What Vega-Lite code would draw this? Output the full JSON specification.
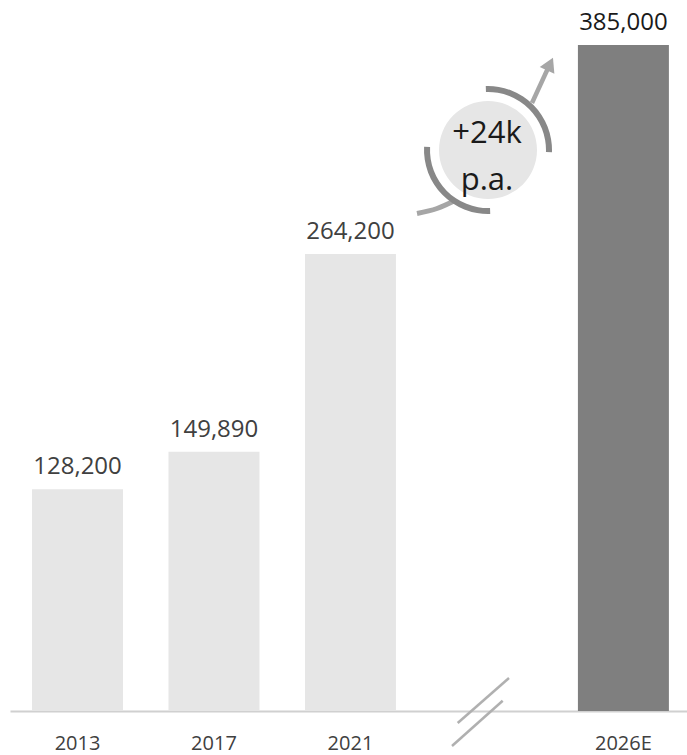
{
  "$schema": "https://vega.github.io/schema/vega-lite/v6.json",
  "autosize": {"type": "none"},
  "padding": {"left": 10, "top": 45, "right": 0, "bottom": 44},
  "width": 677,
  "height": 666,
  "background": "white",
  "config": {"view": {"stroke": null}, "font": "Open Sans"},
  "datasets": {
    "bars": [
      {"year": "2013", "value": 128200, "type": "actual"},
      {"year": "2017", "value": 149890, "type": "actual"},
      {"year": "2021", "value": 264200, "type": "actual"},
      {"year": "2026E", "value": 385000, "type": "estimate"}
    ],
    "breaks": [
      {"i": 2.7856, "v": -6937, "i2": 3.1615, "v2": 19077},
      {"i": 2.7438, "v": -20233, "i2": 3.1153, "v2": 5954}
    ],
    "circle": [{"i": 3.0076, "v": 324303, "a0": 0, "a1": 360}],
    "rings": [
      {"i": 3.0076, "v": 324303, "a0": -2, "a1": 92},
      {"i": 3.0076, "v": 324303, "a0": 178, "a1": 273}
    ],
    "tail": [
      {"i": 2.4874, "v": 287595, "k": 0},
      {"i": 2.6339, "v": 290485, "k": 1},
      {"i": 2.7732, "v": 295399, "k": 2}
    ],
    "shaft": [{"i": 3.33, "v": 351473, "i2": 3.4546, "v2": 372862}],
    "head": [{"i": 3.462, "v": 374018, "dir": 25}],
    "labels": [
      {"i": 3.0, "v": 328349, "t": "+24k"},
      {"i": 3.0, "v": 301180, "t": "p.a."}
    ]
  },
  "resolve": {"scale": {"x": "independent"}, "axis": {"x": "independent"}},
  "layer": [
    {
      "data": {"name": "bars"},
      "encoding": {
        "x": {
          "field": "year",
          "type": "nominal",
          "sort": null,
          "scale": {
            "domain": ["2013", "2017", "2021", "gap", "2026E"],
            "paddingInner": 0.3333,
            "paddingOuter": 0.147,
            "align": 0.549
          },
          "axis": {
            "title": null,
            "labelExpr": "datum.value == 'gap' ? '' : datum.value",
            "labelAngle": 0,
            "ticks": false,
            "tickSize": 0,
            "labelPadding": 38,
            "labelBaseline": "alphabetic",
            "labelFont": "Open Sans",
            "labelFontSize": 20,
            "labelColor": "#404040",
            "domainColor": "#d0d0d0",
            "domainWidth": 2,
            "grid": false
          }
        },
        "y": {
          "field": "value",
          "type": "quantitative",
          "scale": {"domain": [0, 385000], "nice": false, "zero": true},
          "axis": null
        }
      },
      "layer": [
        {
          "mark": {"type": "bar"},
          "encoding": {
            "color": {
              "field": "type",
              "type": "nominal",
              "scale": {"domain": ["actual", "estimate"], "range": ["#e6e6e6", "#7f7f7f"]},
              "legend": null
            }
          }
        },
        {
          "mark": {"type": "text", "baseline": "alphabetic", "dy": -15, "fontSize": 24, "font": "Open Sans"},
          "encoding": {
            "text": {"field": "value", "type": "quantitative", "format": ",d"},
            "color": {
              "condition": {"test": "datum.type == 'estimate'", "value": "#1a1a1a"},
              "value": "#404040"
            }
          }
        }
      ]
    },
    {
      "layer": [
        {
          "data": {"name": "breaks"},
          "mark": {"type": "rule", "color": "#b0b0b0", "strokeWidth": 2.5},
          "encoding": {
            "x": {"field": "i", "type": "quantitative", "scale": {"domain": [-0.495, 4.4658], "nice": false, "zero": false}, "axis": null},
            "x2": {"field": "i2"},
            "y": {"field": "v", "type": "quantitative", "scale": {"domain": [0, 385000], "nice": false}, "axis": null},
            "y2": {"field": "v2"}
          }
        },
        {
          "data": {"name": "circle"},
          "mark": {"type": "arc", "radius": 49, "radius2": 0, "color": "#e6e6e6"},
          "encoding": {
            "x": {"field": "i", "type": "quantitative", "scale": {"domain": [-0.495, 4.4658], "nice": false, "zero": false}, "axis": null},
            "y": {"field": "v", "type": "quantitative", "axis": null},
            "theta": {"field": "a0", "type": "quantitative", "stack": null, "scale": {"domain": [0, 360], "range": [0, 6.283185]}},
            "theta2": {"field": "a1"}
          }
        },
        {
          "data": {"name": "tail"},
          "mark": {"type": "line", "color": "#a6a6a6", "strokeWidth": 5, "interpolate": "monotone", "strokeCap": "butt"},
          "encoding": {
            "x": {"field": "i", "type": "quantitative", "scale": {"domain": [-0.495, 4.4658], "nice": false, "zero": false}, "axis": null},
            "y": {"field": "v", "type": "quantitative", "axis": null},
            "order": {"field": "k"}
          }
        },
        {
          "data": {"name": "rings"},
          "mark": {"type": "arc", "radius": 64, "radius2": 58, "color": "#888888"},
          "encoding": {
            "x": {"field": "i", "type": "quantitative", "scale": {"domain": [-0.495, 4.4658], "nice": false, "zero": false}, "axis": null},
            "y": {"field": "v", "type": "quantitative", "axis": null},
            "theta": {"field": "a0", "type": "quantitative", "stack": null, "scale": {"domain": [0, 360], "range": [0, 6.283185]}},
            "theta2": {"field": "a1"}
          }
        },
        {
          "data": {"name": "shaft"},
          "mark": {"type": "rule", "color": "#a6a6a6", "strokeWidth": 4.5},
          "encoding": {
            "x": {"field": "i", "type": "quantitative", "scale": {"domain": [-0.495, 4.4658], "nice": false, "zero": false}, "axis": null},
            "x2": {"field": "i2"},
            "y": {"field": "v", "type": "quantitative", "axis": null},
            "y2": {"field": "v2"}
          }
        },
        {
          "data": {"name": "head"},
          "mark": {"type": "point", "shape": "triangle-up", "filled": true, "color": "#a6a6a6", "size": 260, "opacity": 1},
          "encoding": {
            "x": {"field": "i", "type": "quantitative", "scale": {"domain": [-0.495, 4.4658], "nice": false, "zero": false}, "axis": null},
            "y": {"field": "v", "type": "quantitative", "axis": null},
            "angle": {"field": "dir", "type": "quantitative", "scale": null}
          }
        },
        {
          "data": {"name": "labels"},
          "mark": {"type": "text", "baseline": "alphabetic", "fontSize": 31, "color": "#1a1a1a", "font": "Open Sans"},
          "encoding": {
            "x": {"field": "i", "type": "quantitative", "scale": {"domain": [-0.495, 4.4658], "nice": false, "zero": false}, "axis": null},
            "y": {"field": "v", "type": "quantitative", "axis": null},
            "text": {"field": "t"}
          }
        }
      ]
    }
  ]
}
